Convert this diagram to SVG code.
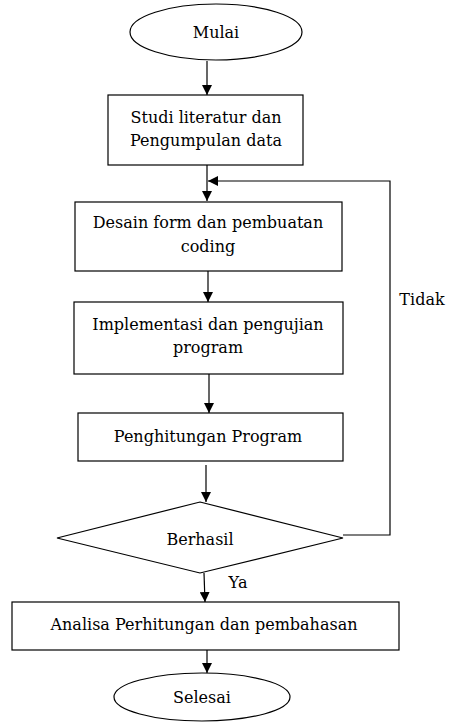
<svg xmlns="http://www.w3.org/2000/svg" width="467" height="722" viewBox="0 0 467 722">
<defs>
<marker id="ah" markerWidth="10" markerHeight="10" refX="10" refY="5" orient="auto" markerUnits="userSpaceOnUse">
<path d="M0,0 L10,5 L0,10 Z" fill="#000"/>
</marker>
<style>
.s{fill:#fff;stroke:#000;stroke-width:1.2}
.t{font-family:"DejaVu Serif","Liberation Serif",serif;font-size:16px;fill:#000;text-anchor:middle}
.c{fill:none;stroke:#000;stroke-width:1.2;marker-end:url(#ah)}
</style>
</defs>
<rect width="467" height="722" fill="#fff"/>
<g id="connectors">
<line class="c" x1="207" y1="61" x2="207" y2="95"/>
<line class="c" x1="207" y1="165" x2="207" y2="201"/>
<line class="c" x1="208" y1="271" x2="208" y2="302"/>
<line class="c" x1="209" y1="374" x2="209" y2="413"/>
<line class="c" x1="206" y1="465" x2="206" y2="502"/>
<polyline class="c" points="343,535 390,535 390,181 208,181"/>
<line class="c" x1="204" y1="573" x2="205" y2="602"/>
<line class="c" x1="207" y1="650" x2="207" y2="673"/>
</g>
<g id="mulai">
<ellipse class="s" cx="216" cy="32" rx="86" ry="28"/>
<text class="t" x="216" y="38">Mulai</text>
</g>
<g id="studi">
<rect class="s" x="108" y="95" width="195" height="70"/>
<text class="t" x="206" y="123">Studi literatur dan</text>
<text class="t" x="206" y="146">Pengumpulan data</text>
</g>
<g id="desain">
<rect class="s" x="75" y="202" width="267" height="69"/>
<text class="t" x="208" y="228">Desain form dan pembuatan</text>
<text class="t" x="208" y="252">coding</text>
</g>
<g id="implementasi">
<rect class="s" x="74" y="302" width="269" height="72"/>
<text class="t" x="208" y="330">Implementasi dan pengujian</text>
<text class="t" x="208" y="353">program</text>
</g>
<g id="penghitungan">
<rect class="s" x="78" y="413" width="265" height="48"/>
<text class="t" x="208" y="442">Penghitungan Program</text>
</g>
<g id="berhasil">
<polygon class="s" points="200,502 343,538 200,573 57,538"/>
<text class="t" x="200" y="545">Berhasil</text>
</g>
<text class="t" x="238" y="588">Ya</text>
<text class="t" x="422" y="305">Tidak</text>
<g id="analisa">
<rect class="s" x="12" y="602" width="387" height="48"/>
<text class="t" x="204" y="630">Analisa Perhitungan dan pembahasan</text>
</g>
<g id="selesai">
<ellipse class="s" cx="202" cy="697" rx="88" ry="24"/>
<text class="t" x="202" y="703">Selesai</text>
</g>
</svg>
